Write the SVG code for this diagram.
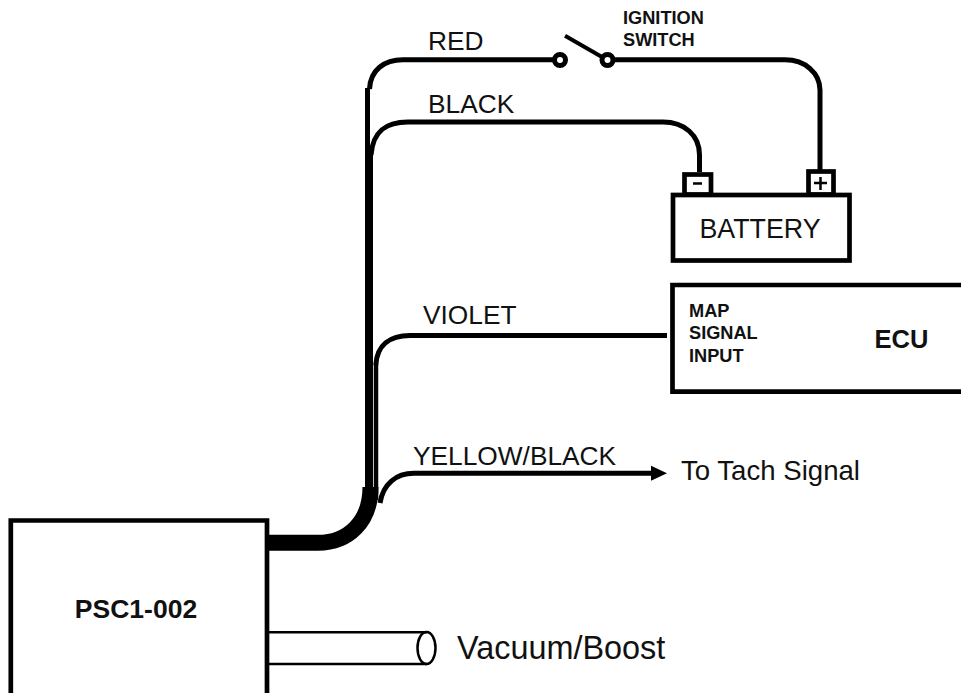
<svg xmlns="http://www.w3.org/2000/svg" width="961" height="693" viewBox="0 0 961 693">
<style>
text{font-family:"Liberation Sans",Arial,sans-serif;fill:#111}
.l{font-size:26.3px}
.b{font-size:18.200px;font-weight:bold}
.box{fill:#fff;stroke:#000;stroke-width:4.700}
.w{fill:none;stroke:#000;stroke-width:5}
.t{fill:none;stroke:#000;stroke-width:2.500}
</style>
<rect width="961" height="693" fill="#fff"/>
<g id="connectors">
<path class="w" d="M555 59.800H403C384 59.800 370.500 70 369.500 89"/>
<path class="w" d="M367.500 88V160"/>
<path class="w" d="M611 59.800H785C805 59.800 820 73 820 90V170"/>
<path class="w" d="M699.500 172V155C699.500 135 684 122 663 122H408C387 122 373 130 371 155"/>
<path d="M369 153V495" fill="none" stroke="#000" stroke-width="8"/>
<path class="w" d="M667 335.500H410C390 335.500 377 345 375.800 365"/>
<path d="M376 364V500" fill="none" stroke="#000" stroke-width="4.500"/>
<path class="w" d="M655 473.300H414C396 473.300 383 484 380 503"/>
<path d="M651 465.800L667 473.300L651 480.800Z" fill="#000"/>
<path d="M268 542.800H318C348 542.800 370.500 522 370.500 487" fill="none" stroke="#000" stroke-width="16"/>
</g>
<g id="switch">
<circle cx="560" cy="60" r="5.500" fill="#fff" stroke="#000" stroke-width="5"/>
<circle cx="607.500" cy="60" r="5.500" fill="#fff" stroke="#000" stroke-width="5"/>
<path d="M565 35.700L602 57" fill="none" stroke="#000" stroke-width="4"/>
<text class="b" x="623" y="24">IGNITION</text>
<text class="b" x="623" y="46">SWITCH</text>
</g>
<g id="battery">
<rect class="box" x="684.500" y="174.500" width="26.500" height="20"/>
<rect class="box" x="808.500" y="171.500" width="25" height="23"/>
<rect class="box" x="673" y="195" width="176.500" height="65.500"/>
<path d="M693 183.500H702" stroke="#000" stroke-width="2.500"/>
<path d="M814 183H827M820.500 177V190" stroke="#000" stroke-width="2.500"/>
<text class="l" x="760" y="237.500" text-anchor="middle" style="font-size:26.800px">BATTERY</text>
</g>
<g id="ecu">
<path class="box" d="M965 285H672.500V391.700H965"/>
<text class="b" x="689" y="317">MAP</text>
<text class="b" x="689" y="339">SIGNAL</text>
<text class="b" x="689" y="362">INPUT</text>
<text x="901.500" y="348" text-anchor="middle" style="font-size:25.500px;font-weight:bold">ECU</text>
</g>
<g id="psc">
<path class="box" d="M10.800 700V520.500H267V700"/>
<text x="136" y="618" text-anchor="middle" style="font-size:26.500px;font-weight:bold">PSC1-002</text>
</g>
<g id="tube">
<path class="t" d="M268 632.300H427M268 664H427"/>
<ellipse class="t" cx="426.500" cy="648" rx="9" ry="16"/>
<text x="457" y="658.500" style="font-size:32.400px">Vacuum/Boost</text>
</g>
<g id="labels">
<text class="l" x="428" y="49.500">RED</text>
<text class="l" x="428" y="112.500">BLACK</text>
<text class="l" x="423" y="324">VIOLET</text>
<text class="l" x="413" y="464.500">YELLOW/BLACK</text>
<text class="l" x="681" y="480" style="font-size:27.600px">To Tach Signal</text>
</g>
</svg>
